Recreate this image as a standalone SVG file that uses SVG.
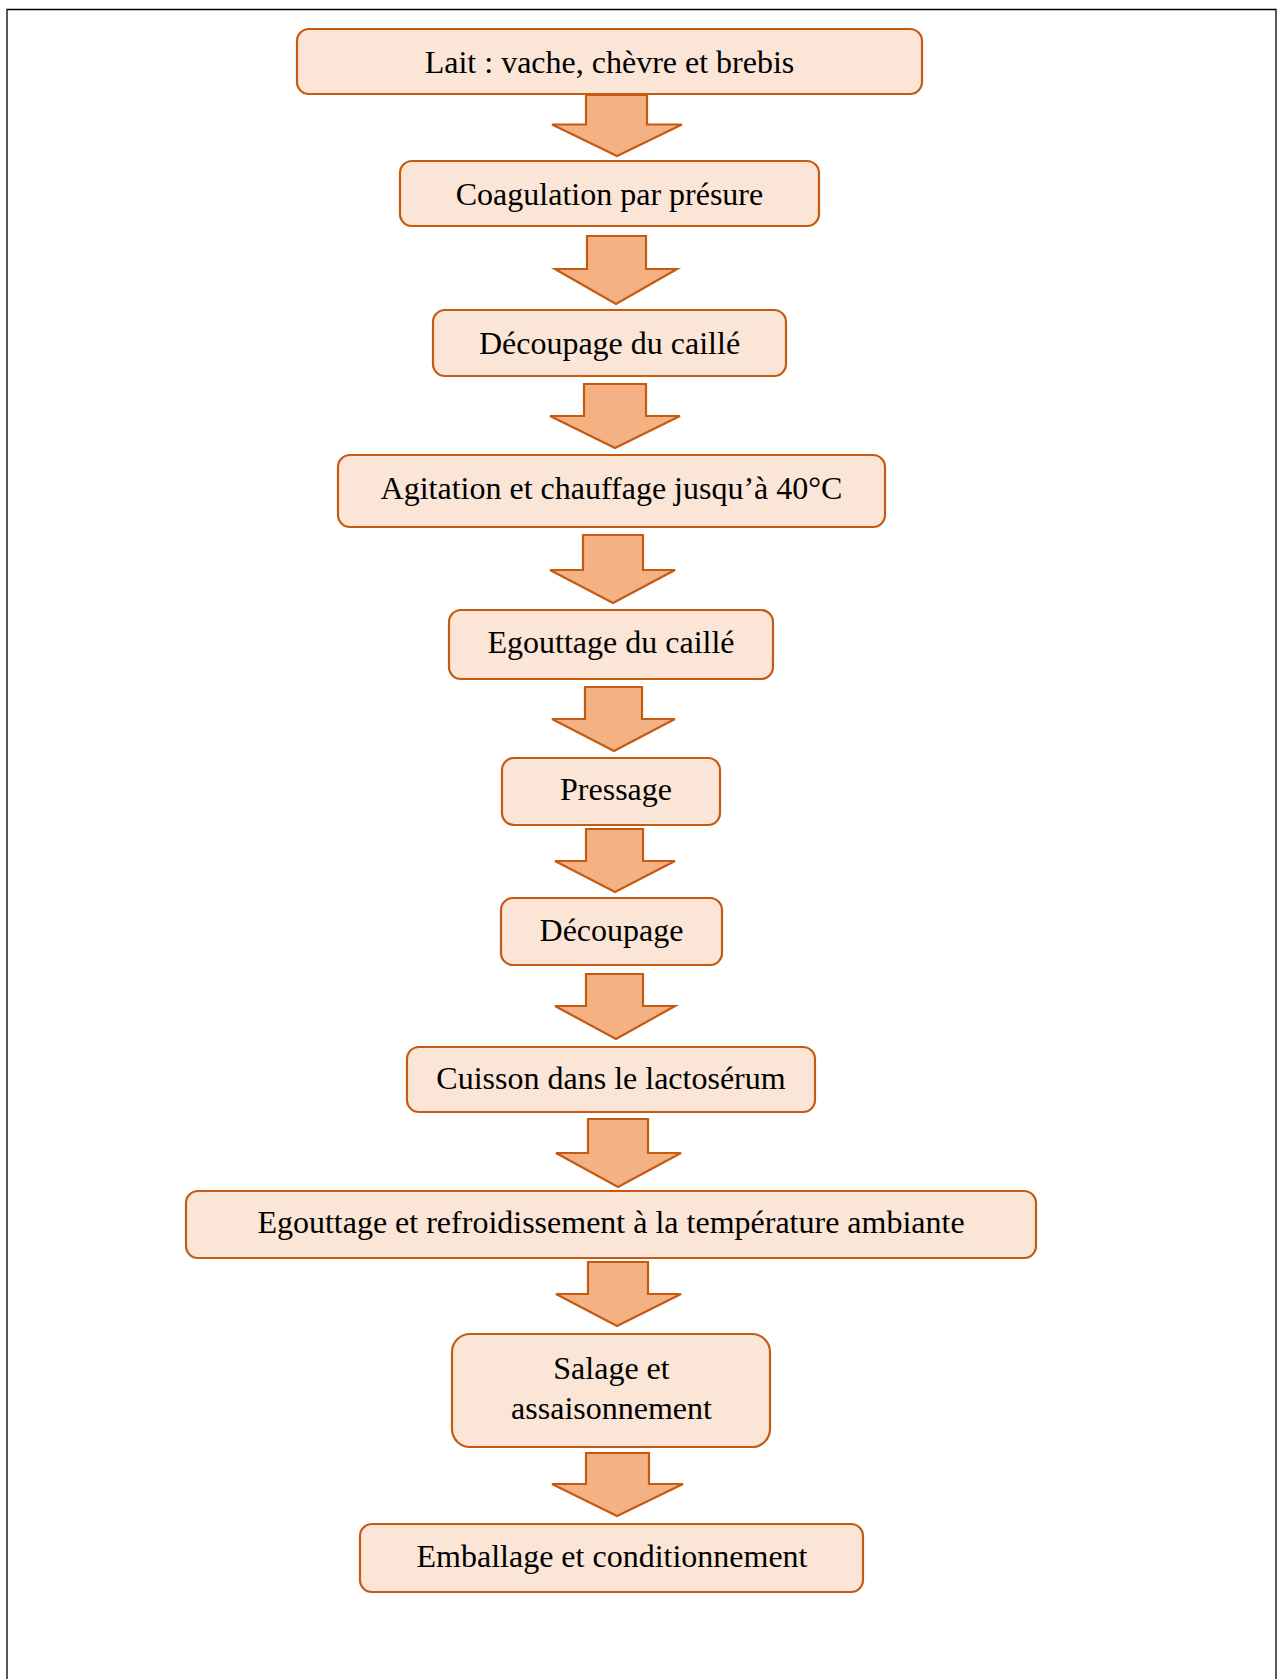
<svg xmlns="http://www.w3.org/2000/svg" width="1281" height="1679" viewBox="0 0 1281 1679">
<style>
.box{fill:#FBE5D6;stroke:#C55A11;stroke-width:2.2}
.arr{fill:#F4B183;stroke:#C55A11;stroke-width:2.2;stroke-linejoin:miter}
.t{font-family:"Liberation Serif","Times New Roman",serif;font-size:32px;fill:#000;text-anchor:middle}
</style>
<rect width="1281" height="1679" fill="#fff"/>
<path d="M7,1679 V9.5 H1276 V1679" fill="none" stroke="#000" stroke-width="1.3"/>
<g id="connectors">
<polygon class="arr" points="586,95 647,95 647,124.5 682,124.5 617,156 552,124.5 586,124.5"/>
<polygon class="arr" points="587,236 646,236 646,269 677,269 616,304 555,269 587,269"/>
<polygon class="arr" points="584,384 646,384 646,416 680,416 615,448 550,416 584,416"/>
<polygon class="arr" points="583,535 643,535 643,570 675,570 613,603 550,570 583,570"/>
<polygon class="arr" points="585,687 642,687 642,719 675,719 614,751 552,719 585,719"/>
<polygon class="arr" points="586,829 643,829 643,861 675,861 615,892 555,861 586,861"/>
<polygon class="arr" points="586,974 643,974 643,1006 675,1006 616,1039 555,1006 586,1006"/>
<polygon class="arr" points="588,1119 648,1119 648,1153 681,1153 618,1187 556,1153 588,1153"/>
<polygon class="arr" points="588,1262 648,1262 648,1294 681,1294 617,1326 556,1294 588,1294"/>
<polygon class="arr" points="586,1453 649,1453 649,1484 683,1484 617,1516 552,1484 586,1484"/>
</g>
<g id="n1"><rect class="box" x="297" y="29" width="625" height="65" rx="12"/><text class="t" x="609.5" y="73">Lait : vache, chèvre et brebis</text></g>
<g id="n2"><rect class="box" x="400" y="161" width="419" height="65" rx="12"/><text class="t" x="609.5" y="205">Coagulation par présure</text></g>
<g id="n3"><rect class="box" x="433" y="310" width="353" height="66" rx="12"/><text class="t" x="609.5" y="354">Découpage du caillé</text></g>
<g id="n4"><rect class="box" x="338" y="455" width="547" height="72" rx="12"/><text class="t" x="611.5" y="499">Agitation et chauffage jusqu’à 40°C</text></g>
<g id="n5"><rect class="box" x="449" y="610" width="324" height="69" rx="12"/><text class="t" x="611" y="653">Egouttage du caillé</text></g>
<g id="n6"><rect class="box" x="502" y="758" width="218" height="67" rx="12"/><text class="t" x="616" y="800">Pressage</text></g>
<g id="n7"><rect class="box" x="501" y="898" width="221" height="67" rx="12"/><text class="t" x="611.5" y="941">Découpage</text></g>
<g id="n8"><rect class="box" x="407" y="1047" width="408" height="65" rx="12"/><text class="t" x="611" y="1089">Cuisson dans le lactosérum</text></g>
<g id="n9"><rect class="box" x="186" y="1191" width="850" height="67" rx="12"/><text class="t" x="611" y="1233">Egouttage et refroidissement à la température ambiante</text></g>
<g id="n10"><rect class="box" x="452" y="1334" width="318" height="113" rx="18"/><text class="t" x="611.5" y="1379">Salage et</text><text class="t" x="611.5" y="1419">assaisonnement</text></g>
<g id="n11"><rect class="box" x="360" y="1524" width="503" height="68" rx="12"/><text class="t" x="612" y="1567">Emballage et conditionnement</text></g>
</svg>
